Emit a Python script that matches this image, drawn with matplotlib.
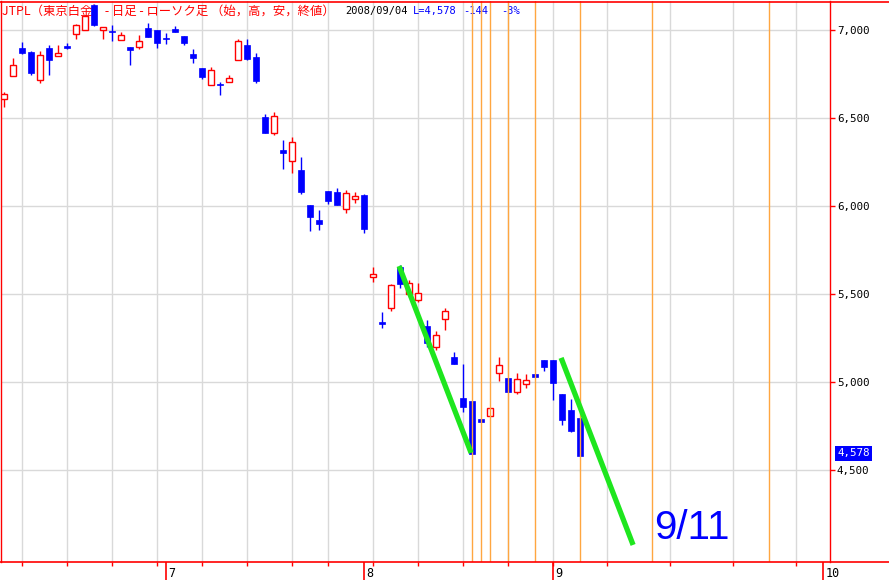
import matplotlib
matplotlib.use("Agg")
import matplotlib.pyplot as plt
import matplotlib.transforms as mtransforms
from matplotlib.lines import Line2D
import pandas as pd

# ---------------- data ----------------
start_date, end_date = "2008-06-05", "2008-09-04"
holidays = ["2008-07-21"]
future_end = "2008-10-03"

opens = [6606, 6735, 6894, 6872, 6712, 6894, 6851, 6906, 6974, 6997,
         7139, 6997, 6993, 6940, 6902, 6903, 7010, 6998, 6953, 7004,
         6964, 6862, 6782, 6688, 6691, 6701, 6826, 6913, 6845, 6502,
         6415, 6316, 6252, 6203, 6004, 5919, 6083, 6078, 5980, 6040,
         6061, 5593, 5339, 5417, 5652, 5497, 5462, 5316, 5199, 5358,
         5140, 4906, 4890, 4785, 4804, 5047, 5019, 4943, 4984, 5041,
         5123, 5123, 4928, 4839, 4793]
highs = [6646, 6839, 6930, 6881, 6879, 6913, 6911, 6923, 7030, 7085,
         7145, 7014, 7027, 6989, 6902, 6972, 7038, 6998, 6980, 7021,
         6964, 6892, 6782, 6790, 6703, 6741, 6949, 6947, 6869, 6521,
         6532, 6373, 6390, 6277, 6004, 5976, 6083, 6101, 6089, 6078,
         6067, 5652, 5396, 5553, 5661, 5576, 5560, 5351, 5288, 5419,
         5168, 5102, 4890, 4785, 4850, 5140, 5019, 5047, 5041, 5041,
         5123, 5123, 4928, 4902, 4793]
lows = [6561, 6735, 6862, 6744, 6699, 6744, 6851, 6889, 6945, 6997,
        7019, 6949, 6938, 6940, 6801, 6889, 6960, 6894, 6920, 6985,
        6915, 6809, 6722, 6684, 6631, 6701, 6826, 6828, 6699, 6415,
        6403, 6210, 6184, 6068, 5858, 5862, 6011, 6006, 5960, 6017,
        5847, 5568, 5307, 5403, 5534, 5481, 5455, 5199, 5180, 5294,
        5102, 4829, 4589, 4768, 4804, 5006, 4943, 4932, 4963, 5028,
        5063, 4898, 4756, 4714, 4578]
closes = [6635, 6798, 6869, 6756, 6855, 6830, 6866, 6894, 7025, 7078,
          7028, 7014, 6989, 6968, 6883, 6934, 6960, 6923, 6949, 6985,
          6926, 6841, 6733, 6769, 6684, 6727, 6936, 6834, 6710, 6415,
          6510, 6301, 6360, 6080, 5937, 5896, 6028, 6006, 6070, 6057,
          5869, 5610, 5330, 5548, 5557, 5559, 5502, 5222, 5264, 5400,
          5102, 4858, 4589, 4768, 4850, 5093, 4943, 5013, 5012, 5028,
          5082, 4990, 4782, 4722, 4578]

orange_dates = ["2008-08-19", "2008-08-20", "2008-08-21", "2008-08-25",
                "2008-08-28", "2008-09-04", "2008-09-12", "2008-09-25"]
trend1_dates = ["2008-08-07", "2008-08-19"]
trend1_values = [5657, 4595]
trend2_dates = ["2008-09-02", "2008-09-10"]
trend2_values = [5135, 4072]

yticks = [4500, 5000, 5500, 6000, 6500, 7000]
y_min, y_max = 3975, 7163

title_red = "JTPL（東京白金）- 日足 - ローソク足 （始，高，安，終値）"
title_date = "2008/09/04"
annot_text = "9/11"

# ---------------- slots ----------------
trade_days = [d for d in pd.bdate_range(start_date, end_date)
              if d.strftime("%Y-%m-%d") not in holidays]
future_days = list(pd.date_range(pd.Timestamp(end_date) + pd.Timedelta(days=1), future_end))
all_days = trade_days + future_days
pos = {d.strftime("%Y-%m-%d"): i for i, d in enumerate(all_days)}
n = len(trade_days)

grid_x = []
for i in range(1, n):
    if trade_days[i].weekday() < trade_days[i - 1].weekday():
        grid_x.append(i)
for j, d in enumerate(future_days):
    if d.weekday() == 6:
        grid_x.append(n + j)

month_x, month_lbl = [], []
for i in range(1, len(all_days)):
    if all_days[i].month != all_days[i - 1].month:
        month_x.append(i)
        month_lbl.append(str(all_days[i].month))

# ---------------- figure ----------------
W, H = 889, 580
fig = plt.figure(figsize=(W / 100, H / 100), dpi=100)
ax = fig.add_axes([1 / W, 18 / H, 829 / W, 561 / H])
ax.set_xlim(-1 / 3, 826 / 9)
ax.set_ylim(y_min, y_max)

RED = "#ff0000"
BLUE = "#0000ff"

# grid
for gx in grid_x:
    ax.axvline(gx, color="#d9d9d9", lw=1.0, zorder=1)
for yt in yticks:
    ax.axhline(yt, color="#d9d9d9", lw=1.0, zorder=1)

# candles
xs = list(range(n))
up = [c >= o for o, c in zip(opens, closes)]
wick_colors = [RED if u else BLUE for u in up]
ax.vlines(xs, lows, highs, colors=wick_colors, lw=1.0, zorder=2)

ux = [x for x, u in zip(xs, up) if u]
ub = [min(opens[x], closes[x]) for x in ux]
uh = [max(abs(closes[x] - opens[x]), 4) for x in ux]
ax.bar(ux, uh, bottom=ub, width=0.68, facecolor="white", edgecolor=RED,
       linewidth=1.0, zorder=3)

dx = [x for x, u in zip(xs, up) if not u]
db = [min(opens[x], closes[x]) for x in dx]
dh = [max(abs(closes[x] - opens[x]), 6) for x in dx]
ax.bar(dx, dh, bottom=db, width=0.72, facecolor=BLUE, edgecolor=BLUE,
       linewidth=0.5, zorder=3)

# orange vertical lines
for d in orange_dates:
    ax.axvline(pos[d], color="#ffa640", lw=1.0, zorder=4)

# green trend lines
for dts, vals in [(trend1_dates, trend1_values), (trend2_dates, trend2_values)]:
    ax.plot([pos[d] - 0.1 for d in dts], vals,
            color="#1ee61e", lw=3.8, solid_capstyle="butt", zorder=5)

# 9/11 annotation
ax.text(654 / W, 1 - 528 / H, annot_text, transform=fig.transFigure, color=BLUE,
        fontsize=29, family=["Liberation Sans"], va="center", ha="left", zorder=6)

# spines
for s in ["left", "right"]:
    ax.spines[s].set_color(RED)
    ax.spines[s].set_linewidth(1.0)
for s in ["top", "bottom"]:
    ax.spines[s].set_visible(False)
fig.add_artist(Line2D([0, 1], [1 - 1.5 / H, 1 - 1.5 / H], transform=fig.transFigure,
                      color=RED, lw=1.2))
fig.add_artist(Line2D([0, 1], [18 / H, 18 / H], transform=fig.transFigure,
                      color=RED, lw=1.2))

# y axis on the right
ax.yaxis.tick_right()
ax.set_yticks(yticks)
ax.set_yticklabels([f"{v:,}" for v in yticks])
ax.tick_params(axis="y", colors=RED, labelcolor="black", length=3.5, width=1.0,
               pad=1.5, labelsize=7.8)
for lbl in ax.get_yticklabels():
    lbl.set_family("DejaVu Sans Mono")

# x axis ticks
ax.set_xticks(grid_x)
ax.set_xticklabels([])
ax.tick_params(axis="x", colors=RED, length=3, width=1.0)

xt = ax.get_xaxis_transform()
ax.vlines(month_x, -18 / 561, 0, colors=RED, lw=1.2, transform=xt, clip_on=False, zorder=6)
for mx, ml in zip(month_x, month_lbl):
    ax.text(mx + 0.25, -5 / 561, ml, transform=xt, va="top", ha="left",
            fontsize=8.5, color="black", family="DejaVu Sans Mono", clip_on=False)

# last price label
last = closes[-1]
chg = closes[-1] - closes[-2]
pct = round(chg / closes[-2] * 100)
blend = mtransforms.blended_transform_factory(ax.transAxes, ax.transData)
ax.text((837 - 1) / 829, last + 15, f"{last:,}", transform=blend, color="white",
        fontsize=7.8, family="DejaVu Sans Mono", va="center", ha="left",
        bbox=dict(facecolor=BLUE, edgecolor="none", pad=1.8), clip_on=False, zorder=7)

# header texts (below candles)
ty = 1 - 11 / H
ax.text(2 / W, ty, title_red, transform=fig.transFigure, color=RED, fontsize=8.9,
        family=["Noto Sans CJK JP", "DejaVu Sans"], va="center", ha="left", zorder=1.5)
ax.text(345 / W, ty, title_date, transform=fig.transFigure, color="black", fontsize=7.5,
        family="DejaVu Sans Mono", va="center", ha="left", zorder=1.5)
ax.text(413 / W, ty, f"L={last:,}", transform=fig.transFigure, color=BLUE, fontsize=7.5,
        family="DejaVu Sans Mono", va="center", ha="left", zorder=1.5)
ax.text(463 / W, ty, f"{chg}", transform=fig.transFigure, color=BLUE, fontsize=7.5,
        family="DejaVu Sans Mono", va="center", ha="left", zorder=1.5)
ax.text(501 / W, ty, f"{pct}%", transform=fig.transFigure, color=BLUE, fontsize=7.5,
        family="DejaVu Sans Mono", va="center", ha="left", zorder=1.5)

fig.savefig("out.png", dpi=100)
